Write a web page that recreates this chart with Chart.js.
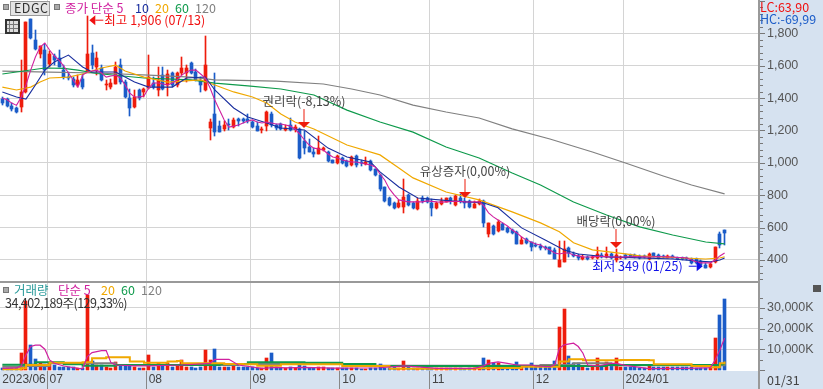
<!DOCTYPE html>
<html>
<head>
<meta charset="utf-8">
<script src="https://cdn.jsdelivr.net/npm/chart.js@4"></script>
<style>
  html, body { margin: 0; padding: 0; background: #fff; overflow: hidden; }
  #wrap { position: relative; width: 823px; height: 389px; }
  canvas { display: block; }
  #wrap span, #wrap div.box { position: absolute; white-space: nowrap; }
  #wrap span { font: 12.5px "Liberation Sans Narrow", "Noto Sans CJK KR", sans-serif; line-height: 14px; }
  .sq { width: 4px; height: 4px; background: #aaa; border: 1px solid #777; }
</style>
</head>
<body>
<div id="wrap">
  <canvas id="chart" width="823" height="389"></canvas>
  <div class="box sq" style="left:3px;top:4px"></div>
  <div class="box" style="left:10px;top:1px;width:38px;height:13px;background:#e4e4e4;border:1px solid #999"></div>
  <span style="left:14px;top:1px;color:#333;letter-spacing:.5px">EDGC</span>
  <div class="box sq" style="left:54px;top:4px"></div>
  <span style="left:65px;top:1px;color:#d0209f">종가 단순 5</span>
  <span style="left:135px;top:1px;color:#1a2f9f">10</span>
  <span style="left:155px;top:1px;color:#f0a800">20</span>
  <span style="left:175px;top:1px;color:#0e9a4b">60</span>
  <span style="left:195px;top:1px;color:#808080">120</span>
  <div class="box" style="left:5px;top:19px;width:11px;height:11px;background:#ddd;border:2px solid #333"></div>
  <div class="box" style="left:9px;top:21px;width:3px;height:11px;border-left:1px solid #777;border-right:1px solid #777"></div>
  <div class="box" style="left:7px;top:24px;width:11px;height:3px;border-top:1px solid #777;border-bottom:1px solid #777"></div>

  <span style="left:760px;top:0px;color:#f01010">LC:63,90</span>
  <span style="left:760px;top:12px;color:#1b5cc8">HC:-69,99</span>

  <div class="box sq" style="left:3px;top:287px"></div>
  <span style="left:14px;top:283px;color:#2a9a9a">거래량</span>
  <span style="left:58px;top:283px;color:#d0209f">단순 5</span>
  <span style="left:101px;top:283px;color:#f0a800">20</span>
  <span style="left:121px;top:283px;color:#0e9a4b">60</span>
  <span style="left:141px;top:283px;color:#808080">120</span>
  <span style="left:5px;top:296px;color:#333;letter-spacing:-.5px">34,402,189주(129,33%)</span>

  <div class="box" style="left:813px;top:285px;width:8px;height:7px;background:#555"></div>
  <span style="left:767px;top:373px;color:#444">01/31</span>
</div>

<script>
// candles, one entry per trading day
const opens = [
  1395,1395,1354,1339,1343,1436,1887,1761,1674,1695,
  1608,1657,1649,1575,1533,1517,1482,1519,1564,1678,
  1591,1585,1478,1471,1488,1602,1498,1399,1343,1447,
  1436,1463,1492,1451,1540,1478,1554,1478,1556,1556,
  1616,1562,1504,1451,1215,1302,1230,1209,1240,1219,
  1271,1271,1271,1250,1230,1203,1230,1302,1234,1238,
  1203,1234,1207,1207,1137,1100,1065,1055,1079,1069,
  1018,997,1028,1014,987,1042,1007,993,1014,960,
  925,849,781,750,725,729,801,750,713,781,
  781,750,719,744,760,785,740,785,764,764,
  719,746,764,558,612,581,622,595,585,575,
  498,529,513,492,488,482,478,461,358,389,
  472,437,426,406,420,410,410,430,420,435,
  400,410,431,431,431,425,425,404,441,431,
  427,414,425,414,414,410,404,404,394,369,
  359,390,558,585];
const highs = [
  1405,1400,1368,1347,1637,1870,1891,1819,1719,1736,
  1690,1674,1695,1602,1560,1533,1540,1546,1906,1726,
  1684,1602,1513,1519,1626,1643,1509,1457,1447,1457,
  1463,1664,1529,1595,1595,1571,1560,1560,1653,1602,
  1620,1581,1529,1781,1271,1556,1260,1260,1271,1277,
  1277,1277,1302,1260,1250,1219,1322,1312,1240,1244,
  1234,1275,1234,1213,1199,1145,1090,1166,1095,1073,
  1018,1048,1034,1018,1042,1046,1018,1034,1018,964,
  929,853,787,760,771,898,808,760,781,795,
  791,775,760,781,785,791,801,808,781,771,
  766,775,770,626,616,647,630,601,591,579,
  544,537,513,502,496,488,482,472,517,517,
  482,451,434,430,426,424,482,445,482,441,
  468,426,437,437,435,430,430,441,445,437,
  431,428,428,418,420,416,410,410,400,383,
  383,482,575,585];
const lows = [
  1360,1345,1323,1306,1312,1430,1767,1699,1649,1540,
  1591,1602,1591,1519,1509,1471,1471,1457,1560,1577,
  1540,1504,1447,1457,1484,1488,1399,1287,1339,1389,
  1405,1457,1457,1416,1451,1416,1470,1467,1544,1502,
  1546,1504,1436,1442,1143,1167,1192,1198,1203,1215,
  1230,1244,1244,1215,1194,1182,1194,1219,1205,1203,
  1199,1199,1193,1024,1055,1065,1038,1055,1075,1007,
  997,993,993,976,981,976,981,987,952,919,
  828,760,736,715,721,692,736,713,709,754,
  750,672,713,740,756,746,733,750,719,719,
  719,742,605,544,554,570,585,564,558,498,
  498,496,457,478,461,461,435,406,358,385,
  420,420,400,400,400,404,406,410,410,406,
  390,404,408,416,412,408,412,400,416,406,
  412,410,410,400,400,398,373,375,360,349,
  348,379,472,493];
const closes = [
  1370,1349,1333,1312,1436,1870,1771,1705,1719,1575,
  1670,1637,1591,1533,1523,1478,1513,1471,1674,1602,
  1647,1513,1488,1492,1591,1498,1405,1337,1409,1401,
  1457,1533,1471,1509,1457,1546,1478,1554,1585,1585,
  1556,1509,1478,1602,1250,1192,1192,1236,1234,1265,
  1260,1256,1256,1223,1198,1209,1312,1234,1213,1207,
  1217,1203,1219,1032,1090,1069,1055,1090,1090,1014,
  997,1042,1001,981,1038,987,997,1007,956,925,
  840,766,740,723,754,787,740,719,766,764,
  760,719,754,764,781,766,795,764,754,725,
  746,764,626,626,558,636,585,570,564,498,
  523,502,478,486,472,472,437,406,400,467,
  441,426,410,420,406,418,434,420,435,414,
  431,420,414,420,416,414,416,437,420,410,
  416,423,414,404,404,404,379,379,369,353,
  373,478,493,569];

// volume in thousands of shares
const volumes = [
  810,810,810,810,8100,33200,12150,5340,3240,2900,
  3560,2430,1620,1620,1300,1300,810,1130,36450,4370,
  2430,2430,1300,810,3725,1950,1950,1950,1300,810,
  1130,7290,1300,3240,1950,3240,1620,2430,4860,1620,
  1300,810,1300,9720,4860,10200,1300,1300,1300,1950,
  1300,1300,1300,1300,810,810,5830,8100,1300,1000,
  1100,1600,900,2900,1800,1100,900,1600,1600,1000,
  900,900,800,800,900,900,700,700,800,800,
  2900,1100,900,1600,800,4370,1300,800,1100,900,
  800,800,800,900,800,800,1000,800,700,800,
  800,800,5830,4860,3560,3560,1900,1100,1300,3890,
  1900,1300,3560,1300,1950,1300,1950,4370,20900,29650,
  6800,3240,3240,1620,810,1950,5830,1620,4050,2900,
  5830,1460,1460,1460,1300,970,970,2430,1300,1300,
  1300,1300,1300,1300,1300,1620,1300,810,810,970,
  1300,15550,26730,34402];

// price moving averages
const ma5 = [
  1400,1390,1369,1355,1407,1481,1573,1654,1715,1740,
  1697,1660,1635,1598,1555,1512,1468,1542,1561,1567,
  1573,1555,1530,1536,1542,1524,1481,1431,1407,1407,
  1413,1462,1493,1493,1487,1481,1493,1512,1542,1561,
  1573,1573,1549,1524,1462,1388,1326,1265,1221,1227,
  1234,1246,1258,1265,1252,1246,1252,1246,1240,1240,
  1234,1227,1209,1178,1141,1110,1091,1085,1079,1055,
  1036,1030,1017,1011,1005,1005,999,993,987,974,
  931,894,839,802,771,765,759,759,759,759,
  765,762,759,757,759,761,763,761,759,758,
  759,759,734,691,666,647,629,610,585,567,
  542,524,511,499,493,474,462,443,437,443,
  443,431,425,419,418,419,421,422,420,419,
  418,417,419,420,421,420,419,418,420,421,
  420,419,418,416,415,412,400,388,382,382,
  382,400,425,443];

const ma10At = [0,3,5,6,7,9,11,14,17,19,24,28,31,36,39,43,45,49,52,56,59,64,69,73,78,80,84,88,95,102,105,110,115,119,122,128,135,142,147,150,152,153];
const ma10 = [1437,1407,1394,1437,1481,1573,1623,1666,1592,1561,1561,1499,1468,1468,1524,1530,1450,1339,1283,1246,1215,1203,1091,1036,1005,944,851,783,765,752,722,598,524,462,437,419,413,406,394,388,400,412];

const ma20At = [0,3,6,8,10,14,17,21,24,26,30,35,42,45,49,53,56,59,62,66,73,80,84,87,94,101,108,114,118,121,125,132,135,149,152,153];
const ma20 = [1468,1450,1468,1499,1524,1530,1549,1586,1604,1567,1530,1499,1512,1481,1438,1407,1370,1302,1252,1209,1110,1049,968,907,820,771,697,629,574,506,462,437,425,406,412,420];

const ma60At = [0,9,13,16,20,30,40,45,52,59,66,73,80,87,94,101,108,114,121,128,135,142,149,153];
const ma60 = [1549,1586,1583,1573,1552,1524,1512,1493,1475,1456,1419,1326,1252,1190,1098,1030,937,863,758,678,604,554,511,499];

const ma120At = [0,10,20,31,40,45,58,68,74,80,87,94,101,108,116,125,132,140,146,153];
const ma120 = [1567,1561,1555,1542,1530,1512,1505,1487,1456,1419,1357,1314,1277,1210,1147,1067,999,919,863,808];

// volume moving averages
const vol5At = [0,3,4,5,6,7,8,9,10,11,13,16,17,18,19,21,22,23,24,28,31,38,44,45,48,50,55,58,60,64,70,80,85,88,92,100,102,103,105,107,109,112,113,116,117,118,119,121,122,123,124,126,129,130,132,137,145,150,151,152,153];
const vol5 = [800,1000,2000,7290,11340,11990,11990,10040,4860,3240,1950,810,700,6480,8420,9400,9400,3560,2430,1950,1950,2430,3240,5180,5180,2430,810,1300,1000,1300,900,1100,2000,1500,800,800,2000,3240,3900,3240,2430,2430,2000,1620,2430,10500,12150,12960,11340,8100,2430,1950,3240,3240,2270,650,810,1130,4860,9720,15390];

const vol20At = [0,4,5,10,17,19,22,24,27,30,35,37,38,42,47,51,54,59,64,72,82,88,100,104,110,114,118,120,123,131,137,138,146,150,152,153];
const vol20 = [324,810,2430,3560,3725,5670,6150,6150,4050,3560,4050,4370,3240,3240,2900,2750,2100,2750,2750,1950,650,600,800,1000,1620,1620,4050,5180,4700,4860,4700,2750,1950,1300,3240,4050];

const vol60At = [0,4,7,13,17,24,30,46,52,58,64,72,79,114,128,137,152,153];
const vol60 = [2590,2590,3725,2750,2100,2430,2430,2750,3725,3725,3560,2900,1950,1950,2430,2430,2750,2750];

const vol120At = [0,4,10,24,50,59,70,79,114,121,125,129,153];
const vol120 = [1620,1950,3240,2430,2900,3240,2900,2100,2430,3240,3240,2270,2900];

// x axis: months and where they start
const monthAt = [0,10,31,53,72,91,113,132];
const monthText = ['2023/06','07','08','09','10','11','12','2024/01'];
const slots = Array.from({length: 161}, (_, i) => 'd' + i);

// axis ticks on the volume panel
const volTicks = [0,5000,10000,15000,20000,25000,30000,35000];

// arrows and notes on the price panel
const noteAt = [64, 98, 130];
const noteTip = [1215, 783, 474];
const noteText = ['권리락(-8,13%)', '유상증자(0,00%)', '배당락(0,00%)'];
const highAt = 18, highValue = 1906, highText = '최고 1,906 (07/13)';
const lowAt = 149, lowValue = 349, lowText = '최저 349 (01/25)';

const RED = '#ee1c0c', BLUE = '#1b5cc8', FONT = '12.5px "Liberation Sans Narrow", "Noto Sans CJK KR", sans-serif';
const PANEL = '#d6e2f0', AXIS = '#999999', GRID = '#d4d4d4';

const upDown = closes.map((c, i) => (c >= opens[i] ? RED : BLUE));
const line = (at, vals, color, yAxisID, width, stepped) => ({
  type: 'line', data: at.map((i, k) => ({x: slots[i], y: vals[k]})), borderColor: color,
  borderWidth: width, pointRadius: 0, tension: 0, stepped: !!stepped, yAxisID, order: 1
});
const every = ma5.map((_, i) => i);
const noPad = s => { s.paddingTop = s.paddingBottom = s.paddingLeft = s.paddingRight = 0; };

const panels = {
  id: 'panels',
  beforeDraw(chart) {
    const {ctx, chartArea: a} = chart;
    ctx.fillStyle = PANEL;
    ctx.fillRect(758, 0, 65, 389);
    ctx.fillRect(0, a.bottom, 760, 389 - a.bottom);
  },
  afterDatasetsUpdate(chart) {
    // keep bars on whole pixels like the original
    chart.data.datasets.forEach((d, n) => {
      if (d.type !== 'bar') return;
      chart.getDatasetMeta(n).data.forEach(el => {
        el.x = Math.round(el.x - 0.5) + 0.5;
        el.y = Math.round(el.y);
        el.base = Math.round(el.base);
      });
    });
  },
  afterDraw(chart) {
    const {ctx, scales: {y, v}} = chart;
    ctx.save();
    ctx.fillStyle = AXIS;
    ctx.fillRect(758, 0, 2, 389);
    ctx.fillRect(0, Math.round(y.bottom), 760, 2);
    ctx.fillStyle = '#777';
    y.ticks.forEach(t => ctx.fillRect(760, Math.round(y.getPixelForValue(t.value)), t.value % 200 === 0 ? 5 : 3, 1));
    v.ticks.forEach(t => ctx.fillRect(760, Math.round(v.getPixelForValue(t.value)), t.value % 10000 === 0 ? 5 : 3, 1));
    ctx.restore();
  }
};

const notes = {
  id: 'notes',
  afterDatasetsDraw(chart) {
    const {ctx, scales: {x, y}} = chart;
    ctx.save();
    ctx.font = FONT;
    ctx.textBaseline = 'middle';
    noteAt.forEach((at, n) => {
      const px = Math.round(x.getPixelForValue(slots[at])), tip = y.getPixelForValue(noteTip[n]);
      ctx.fillStyle = RED;
      ctx.fillRect(px - 0.5, tip - 19, 1, 14);
      ctx.beginPath();
      ctx.moveTo(px - 6, tip - 6);
      ctx.lineTo(px + 6, tip - 6);
      ctx.lineTo(px, tip);
      ctx.fill();
      ctx.fillStyle = '#444';
      ctx.textAlign = 'center';
      ctx.fillText(noteText[n], px, tip - 27);
    });
    // highest price, arrow points left at the wick
    let px = x.getPixelForValue(slots[highAt]) + 2, py = y.getPixelForValue(highValue) + 4;
    ctx.fillStyle = '#f01010';
    ctx.beginPath();
    ctx.moveTo(px, py);
    ctx.lineTo(px + 6, py - 5);
    ctx.lineTo(px + 6, py + 5);
    ctx.fill();
    ctx.fillRect(px + 6, py - 0.5, 8, 1);
    ctx.textAlign = 'left';
    ctx.fillText(highText, px + 15, py);
    // lowest price, arrow points right at the candle
    px = x.getPixelForValue(slots[lowAt]) - 3;
    py = y.getPixelForValue(lowValue) - 2;
    ctx.fillStyle = '#1010e8';
    ctx.beginPath();
    ctx.moveTo(px, py);
    ctx.lineTo(px - 6, py - 5);
    ctx.lineTo(px - 6, py + 5);
    ctx.fill();
    ctx.fillRect(px - 14, py - 0.5, 8, 1);
    ctx.textAlign = 'right';
    ctx.fillText(lowText, px - 20, py);
    ctx.restore();
  }
};

const chart = new Chart(document.getElementById('chart'), {
  data: {
    labels: slots,
    datasets: [
      line(every, ma5, '#d0209f', 'y', 1.1),
      line(ma10At, ma10, '#1a2f9f', 'y', 1.1),
      line(ma20At, ma20, '#f0a800', 'y', 1.2),
      line(ma60At, ma60, '#0e9a4b', 'y', 1.2),
      line(ma120At, ma120, '#808080', 'y', 1.2),
      line(vol5At, vol5, '#d0209f', 'v', 1.2),
      line(vol20At, vol20, '#f0a800', 'v', 2, true),
      line(vol60At, vol60, '#0e9a4b', 'v', 2, true),
      line(vol120At, vol120, '#808080', 'v', 2, true),
      {type: 'bar', data: opens.map((o, i) => [o, closes[i]]), backgroundColor: upDown, barThickness: 3, grouped: false, yAxisID: 'y', order: 2},
      {type: 'bar', data: lows.map((l, i) => [l, highs[i]]), backgroundColor: upDown, barThickness: 1, grouped: false, yAxisID: 'y', order: 3},
      {type: 'bar', data: volumes, backgroundColor: upDown, barThickness: 3, grouped: false, yAxisID: 'v', order: 2}
    ]
  },
  options: {
    responsive: false,
    animation: false,
    layout: {padding: 0, autoPadding: false},
    plugins: {legend: {display: false}, tooltip: {enabled: false}},
    scales: {
      x: {
        type: 'category',
        offset: true,
        afterFit: s => { s.height = 18; noPad(s); },
        border: {display: false},
        grid: {
          offset: true,
          tickLength: 18,
          tickColor: c => (c.index > 0 && monthAt.includes(c.index) ? '#888' : 'transparent'),
          color: c => (c.index > 0 && monthAt.includes(c.index) ? GRID : 'transparent')
        },
        ticks: {
          autoSkip: false, maxRotation: 0, align: 'start', padding: -17, color: '#444', font: {family: '"Liberation Sans Narrow", sans-serif', size: 12},
          callback: (val, i) => { const k = monthAt.indexOf(i); return k < 0 ? '' : monthText[k]; }
        }
      },
      y: {
        type: 'linear', position: 'right', stack: 'panels', stackWeight: 281, min: 270, max: 2006,
        afterFit: s => { s.width = 63; noPad(s); },
        afterBuildTicks: s => { s.ticks = s.ticks.filter(t => t.value >= 280 && t.value <= 2000 && t.value % 40 === 0); },
        border: {display: false},
        grid: {drawTicks: false, color: c => (c.tick && c.tick.value % 200 === 0 && c.tick.value >= 400 && c.tick.value <= 1800 ? GRID : 'transparent')},
        ticks: {
          stepSize: 40, autoSkip: false, includeBounds: false, crossAlign: 'near', padding: 7, color: '#555', font: {family: '"Liberation Sans Narrow", sans-serif', size: 12.5},
          callback: val => (val % 200 === 0 && val >= 400 && val <= 1800 ? val.toLocaleString('en-US') : '')
        }
      },
      v: {
        type: 'linear', position: 'right', stack: 'panels', stackWeight: 90, min: -480, max: 43000,
        afterFit: s => { s.width = 63; noPad(s); },
        afterBuildTicks: s => { s.ticks = volTicks.map(value => ({value})); },
        border: {display: false},
        grid: {drawTicks: false, color: c => (c.tick && c.tick.value > 0 && c.tick.value % 10000 === 0 ? GRID : 'transparent')},
        ticks: {
          autoSkip: false, crossAlign: 'near', padding: 7, color: '#555', font: {family: '"Liberation Sans Narrow", sans-serif', size: 12.5},
          callback: val => (val > 0 && val % 10000 === 0 ? val.toLocaleString('en-US') + 'K' : '')
        }
      }
    }
  },
  plugins: [panels, notes]
});
</script>
</body>
</html>
